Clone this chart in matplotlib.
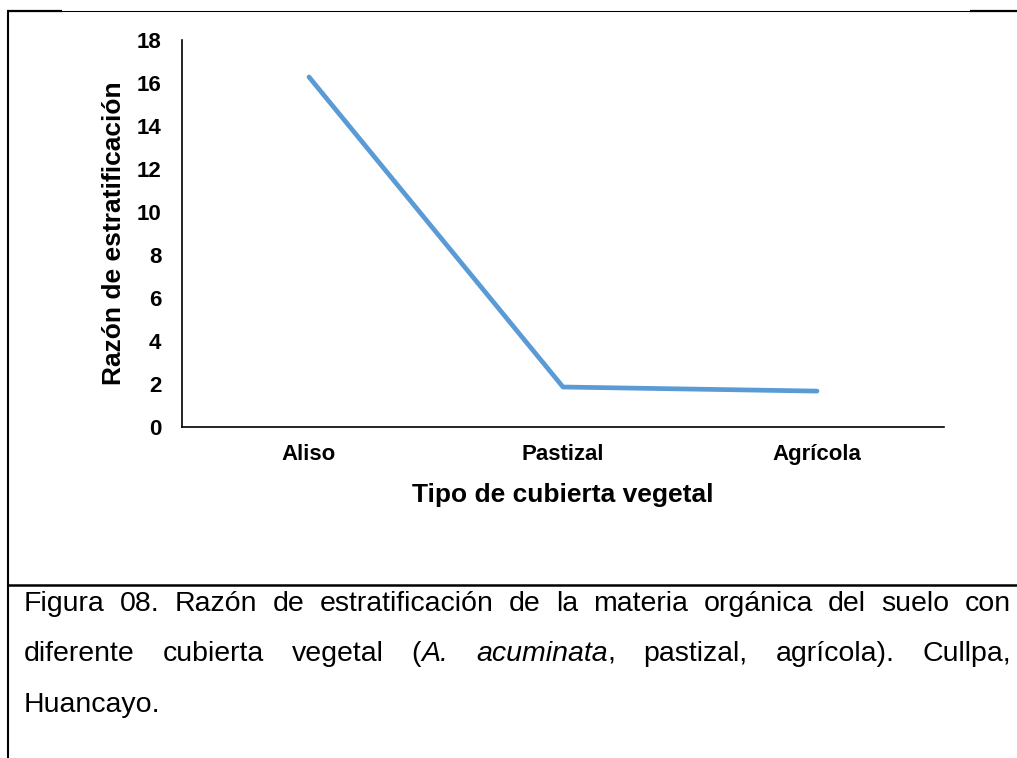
import matplotlib
matplotlib.use("Agg")
import matplotlib.pyplot as plt
from matplotlib.lines import Line2D
from matplotlib.transforms import IdentityTransform

plt.rcParams['font.family'] = ['Liberation Sans', 'DejaVu Sans']

# datos
categorias = ["Aliso", "Pastizal", "Agrícola"]
razon = [16.28, 1.86, 1.67]
y_ticks = [0, 2, 4, 6, 8, 10, 12, 14, 16, 18]

W, H = 1017, 758
fig = plt.figure(figsize=(W / 100, H / 100), dpi=100)

# ejes en pixeles de la imagen
x0, x1, y_top, y_bot = 182, 944, 40, 427
ax = fig.add_axes([x0 / W, 1 - y_bot / H, (x1 - x0) / W, (y_bot - y_top) / H])

pos = [i + 0.5 for i in range(len(categorias))]
ax.plot(pos, razon, color='#5B9BD5', linewidth=3.4, solid_capstyle='round')

ax.set_xlim(0, len(categorias))
ax.set_ylim(0, 18)
ax.set_xticks(pos)
ax.set_xticklabels(categorias, fontsize=16, fontweight='bold')
ax.set_yticks(y_ticks)
ax.set_yticklabels([str(v) for v in y_ticks], fontsize=16, fontweight='bold')
ax.tick_params(axis='y', length=0, pad=15)
ax.tick_params(axis='x', length=0, pad=12)

for s in ['top', 'right']:
	ax.spines[s].set_visible(False)
for s in ['left', 'bottom']:
	ax.spines[s].set_linewidth(1.2)

ax.set_ylabel('Razón de estratificación', fontsize=19, fontweight='bold')
ax.yaxis.set_label_coords(-0.073, 0.5)
ax.set_xlabel('Tipo de cubierta vegetal', fontsize=19, fontweight='bold')
ax.xaxis.set_label_coords(0.5, -(495 - y_bot) / (y_bot - y_top))
ax.xaxis.label.set_va('center')


# marco del cuadro (lineas de la tabla del documento)
def hline(xa, xb, y, lw):
	fig.add_artist(Line2D([xa, xb], [H - y, H - y], color='black', linewidth=lw,
		transform=IdentityTransform(), solid_capstyle='butt'))


def vline(x, ya, yb, lw):
	fig.add_artist(Line2D([x, x], [H - ya, H - yb], color='black', linewidth=lw,
		transform=IdentityTransform(), solid_capstyle='butt'))


hline(7, 1017, 10.5, 0.75)
hline(7, 62, 10.5, 1.6)
hline(970, 1017, 10.5, 1.6)
vline(8, 9.5, 758, 1.5)
hline(7, 1017, 584.5, 1.8)

# leyenda de la figura, texto justificado
cap_size = 20.5
lineas = [
	[[("Figura", 'normal')], [("08.", 'normal')], [("Razón", 'normal')], [("de", 'normal')],
	 [("estratificación", 'normal')], [("de", 'normal')], [("la", 'normal')],
	 [("materia", 'normal')], [("orgánica", 'normal')], [("del", 'normal')],
	 [("suelo", 'normal')], [("con", 'normal')]],
	[[("diferente", 'normal')], [("cubierta", 'normal')], [("vegetal", 'normal')],
	 [("(", 'normal'), ("A.", 'italic')], [("acuminata", 'italic'), (",", 'normal')],
	 [("pastizal,", 'normal')], [("agrícola).", 'normal')], [("Cullpa,", 'normal')]],
	[[("Huancayo.", 'normal')]],
]
bases = [611, 661, 712]
left, right = 24, 1011

fig.canvas.draw()
renderer = fig.canvas.get_renderer()


def medir(txt, estilo):
	t = fig.text(0, 0, txt, fontsize=cap_size, style=estilo, transform=IdentityTransform())
	w = t.get_window_extent(renderer).width
	t.remove()
	return w


for k, (palabras, base) in enumerate(zip(lineas, bases)):
	anchos = [sum(medir(s, e) for s, e in p) for p in palabras]
	if k < len(lineas) - 1:
		gap = (right - left - sum(anchos)) / (len(palabras) - 1)
	else:
		gap = medir(" ", 'normal')
	x = left
	for p, w in zip(palabras, anchos):
		xx = x
		for s, e in p:
			fig.text(xx, H - base, s, fontsize=cap_size, style=e, va='baseline',
				ha='left', transform=IdentityTransform())
			xx += medir(s, e)
		x += w + gap

fig.savefig('out.png', dpi=100)
